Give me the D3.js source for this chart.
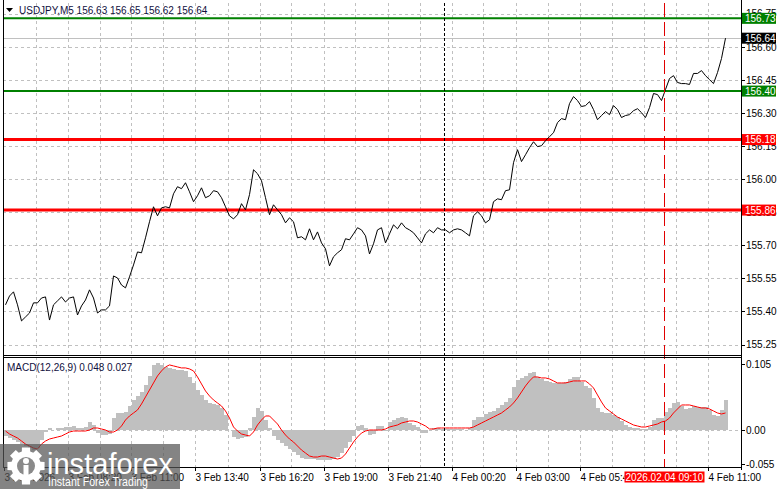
<!DOCTYPE html>
<html>
<head>
<meta charset="utf-8">
<script src="https://cdn.jsdelivr.net/npm/d3@7"></script>
<style>
  html, body { margin: 0; padding: 0; background: #ffffff; }
  svg { display: block; }
  text { font-family: "Liberation Sans", Arial, sans-serif; }
</style>
</head>
<body>
<svg id="chart" width="781" height="489"></svg>
<script>
// ---------------- DATA ----------------
const symbolTitle = "USDJPY,M5";
const ohlcHeader = [156.63, 156.65, 156.62, 156.64];
const seriesStart = "2026-02-03T05:45:00Z";   // first sample time
const sampleStepMinutes = 10;                    // one sample every 2 M5 bars

// close prices (one per 10 minutes)
const closes = [
  155.430,155.470,155.489,155.430,155.357,155.375,155.393,155.439,155.439,155.461,
  155.466,155.361,155.430,155.448,155.466,155.443,155.461,155.466,155.384,155.425,
  155.452,155.498,155.461,155.393,155.407,155.407,155.425,155.561,155.552,155.520,
  155.507,155.557,155.611,155.670,155.666,155.734,155.807,155.875,155.834,155.870,
  155.875,155.870,155.934,155.966,155.957,155.984,155.943,155.898,155.925,155.961,
  155.916,155.925,155.948,155.943,155.916,155.875,155.834,155.820,155.839,155.889,
  155.861,155.930,156.043,156.025,155.993,155.916,155.839,155.884,155.861,155.839,
  155.802,155.825,155.807,155.734,155.739,155.725,155.775,155.725,155.761,155.711,
  155.684,155.607,155.648,155.666,155.680,155.730,155.725,155.752,155.780,155.770,
  155.743,155.661,155.707,155.770,155.780,155.711,155.752,155.793,155.775,155.802,
  155.780,155.770,155.757,155.734,155.711,155.752,155.770,155.757,155.780,155.770,
  155.770,155.757,155.770,155.775,155.770,155.757,155.743,155.834,155.852,155.834,
  155.802,155.816,155.898,155.911,155.907,155.948,155.952,156.075,156.134,156.080,
  156.111,156.143,156.170,156.148,156.152,156.175,156.193,156.211,156.257,156.275,
  156.270,156.343,156.375,156.357,156.330,156.334,156.352,156.316,156.270,156.289,
  156.307,156.293,156.334,156.316,156.280,156.289,156.293,156.311,156.320,156.302,
  156.280,156.325,156.389,156.384,156.357,156.407,156.457,156.470,156.439,156.434,
  156.434,156.430,156.480,156.480,156.493,156.470,156.452,156.434,156.484,156.548,
  156.640
];

// MACD(12,26,9) main histogram
const macdHist = [
  -0.0096,-0.0128,-0.016,-0.0192,-0.0224,-0.0256,-0.0288,-0.032,-0.0288,-0.016,
  -0.0032,0.0032,0,0.0032,0.0032,0.0048,0.0048,0.0064,0.0032,0.0032,
  0.0048,0.0128,0.008,-0.0048,-0.008,-0.008,-0.0064,0.0192,0.0272,0.0272,
  0.0288,0.0384,0.048,0.0544,0.0608,0.072,0.0864,0.104,0.1072,0.104,
  0.1008,0.0992,0.0976,0.096,0.096,0.0944,0.0848,0.0752,0.064,0.056,
  0.048,0.0432,0.0416,0.04,0.0352,0.024,0,-0.0112,-0.0144,-0.0128,
  -0.0112,0.0032,0.0208,0.0352,0.0304,0.016,0.0032,-0.0096,-0.016,-0.0208,
  -0.0256,-0.0304,-0.0352,-0.04,-0.0448,-0.0464,-0.0464,-0.0464,-0.048,-0.048,
  -0.048,-0.048,-0.0464,-0.0432,-0.0368,-0.0288,-0.0192,-0.0096,0.0064,0.008,
  0.0032,-0.008,-0.0064,0.0064,0.0064,-0.0016,0.0128,0.016,0.0192,0.0208,
  0.0192,0.0112,0.008,0.0048,-0.0048,-0.0048,0,0.0032,0.0032,0.0016,
  0.0016,0.0016,0.0016,0.0016,0.0016,0,0.0032,0.016,0.0208,0.0208,
  0.0256,0.0288,0.0304,0.0352,0.04,0.0448,0.0512,0.0688,0.08,0.0832,
  0.0864,0.0912,0.0928,0.0848,0.0816,0.0784,0.0768,0.0752,0.0752,0.0752,
  0.0768,0.0816,0.0848,0.0848,0.0768,0.0704,0.0672,0.0512,0.0352,0.0288,
  0.0272,0.0272,0.024,0.0208,0.0144,0.008,0.0048,0.0032,0.0032,0.0016,
  0.0016,0.0048,0.016,0.0192,0.0192,0.0288,0.0352,0.0432,0.0448,0.0384,
  0.0336,0.0352,0.0384,0.0368,0.0368,0.0368,0.032,0.024,0.0224,0.032,
  0.048
];

// MACD signal line
const macdSignal = [
  -0.0016,-0.0064,-0.0096,-0.0128,-0.0176,-0.0224,-0.0256,-0.0288,-0.0304,-0.0224,
  -0.0176,-0.0144,-0.0128,-0.0112,-0.0096,-0.0064,-0.0032,-0.0016,-0.0016,-0.0016,
  -0.0016,0,0.0032,0.0032,0.0016,0,-0.0032,-0.0032,0,0.0064,
  0.016,0.0224,0.0272,0.032,0.0416,0.0528,0.064,0.0752,0.0864,0.0944,
  0.1008,0.104,0.1024,0.1008,0.0992,0.0992,0.0976,0.0944,0.0848,0.0736,
  0.0624,0.0544,0.048,0.0432,0.0384,0.0304,0.0192,0.0048,-0.0016,-0.0064,
  -0.008,-0.0096,-0.0032,0.008,0.016,0.0224,0.0224,0.016,0.0096,0,
  -0.008,-0.0144,-0.0192,-0.0256,-0.032,-0.0368,-0.0416,-0.0432,-0.0432,-0.0416,
  -0.0416,-0.0432,-0.0448,-0.0464,-0.0448,-0.0384,-0.0288,-0.0192,-0.0112,-0.0048,
  -0.0016,0,0,0,0,0.0016,0.0048,0.0064,0.008,0.0112,
  0.0128,0.0144,0.0144,0.0128,0.0096,0.0064,0.0016,0.0016,0.0032,0.0032,
  0.0032,0.0032,0.0032,0.0032,0.0032,0.0032,0.0032,0.0048,0.008,0.0112,
  0.0144,0.0176,0.0208,0.024,0.0272,0.032,0.0368,0.0432,0.0512,0.0608,
  0.0704,0.0784,0.0848,0.0848,0.0832,0.0832,0.0816,0.0784,0.0752,0.0752,
  0.0752,0.0768,0.0784,0.0784,0.0784,0.0784,0.0736,0.0672,0.056,0.0448,
  0.0352,0.0304,0.0256,0.0208,0.0176,0.0144,0.0112,0.008,0.0064,0.0048,
  0.0048,0.0064,0.008,0.0096,0.0128,0.0144,0.0192,0.0272,0.0336,0.04,
  0.04,0.04,0.0384,0.0368,0.0352,0.0352,0.0336,0.0304,0.0272,0.0256,
  0.0272
];
const macdLabel = "MACD(12,26,9) 0.048 0.027";

// price axis ticks and levels
const priceTicks = [156.75, 156.60, 156.45, 156.30, 156.15, 156.00, 155.85, 155.70, 155.55, 155.40, 155.25];
const macdTicks = [0.105, 0.00, -0.055];
const macdTickLabels = ["0.105", "0.00", "-0.055"];
const resistanceLevels = [156.73, 156.40];   // green
const supportLevels = [156.18, 155.86];      // red
const bidPrice = 156.64;

// time axis (the 08:20 label of 4 Feb is hidden under the cursor box in the reference)
const timeTicks = ["2026-02-03T05:40:00Z","2026-02-03T08:20:00Z","2026-02-03T11:00:00Z","2026-02-03T13:40:00Z",
  "2026-02-03T16:20:00Z","2026-02-03T19:00:00Z","2026-02-03T21:40:00Z","2026-02-04T00:20:00Z",
  "2026-02-04T03:00:00Z","2026-02-04T05:40:00Z","2026-02-04T11:00:00Z"];
const timeTickLabels = ["3 Feb 2026","3 Feb 08:20","3 Feb 11:00","3 Feb 13:40","3 Feb 16:20","3 Feb 19:00",
  "3 Feb 21:40","4 Feb 00:20","4 Feb 03:00","4 Feb 05:40","4 Feb 11:00"];
const daySeparator = "2026-02-04T00:00:00Z";
const cursorTime = "2026-02-04T09:10:00Z";
const cursorLabel = "2026.02.04 09:10";

// ---------------- LAYOUT ----------------
const L = 3, R = 741;
const mainTop = 3, mainBottom = 355;
const macdTop = 357, macdBottom = 467;
const FONT = 10;
const gridColor = "#c0c0c0";

const svg = d3.select("#chart");
const t0 = new Date(seriesStart).getTime();
const times = closes.map((_, i) => new Date(t0 + i * sampleStepMinutes * 60000));

const x = d3.scaleUtc()
  .domain([new Date(daySeparator), new Date(cursorTime)])
  .range([443.5, 663.5]);
const y = d3.scaleLinear().domain([155.25, 156.60]).range([344.5, 47]);
const ym = d3.scaleLinear().domain([0, 0.105]).range([430, 364.3]);

const curX = Math.round(x(new Date(cursorTime))) + 0.5;

const defs = svg.append("defs");
defs.append("clipPath").attr("id", "clipMain").append("rect")
  .attr("x", L + 1).attr("y", mainTop).attr("width", R - L - 1).attr("height", mainBottom - mainTop);
defs.append("clipPath").attr("id", "clipMacd").append("rect")
  .attr("x", L + 1).attr("y", macdTop + 1).attr("width", R - L - 1).attr("height", macdBottom - macdTop - 1);
defs.append("clipPath").attr("id", "clipTime").append("rect")
  .attr("x", 0).attr("y", macdBottom).attr("width", curX - 40).attr("height", 489 - macdBottom);

// vertical grid (every 80 minutes)
const gStart = new Date("2026-02-03T07:00:00Z").getTime();
const vGrid = [];
for (let t = gStart; x(new Date(t)) < R - 4; t += 80 * 60000) vGrid.push(new Date(t));

const grid = svg.append("g").attr("stroke", gridColor).attr("stroke-width", 1).attr("stroke-dasharray", "3,3").attr("shape-rendering", "crispEdges");
vGrid.forEach(d => {
  const xx = Math.round(x(d)) + 0.5;
  grid.append("line").attr("x1", xx).attr("x2", xx).attr("y1", mainTop).attr("y2", mainBottom);
  grid.append("line").attr("x1", xx).attr("x2", xx).attr("y1", macdTop).attr("y2", macdBottom);
});
priceTicks.forEach(p => {
  const yy = Math.round(y(p)) + 0.5;
  grid.append("line").attr("x1", L).attr("x2", R).attr("y1", yy).attr("y2", yy);
});
grid.append("line").attr("x1", L).attr("x2", R)
  .attr("y1", Math.round(ym(0)) + 0.5).attr("y2", Math.round(ym(0)) + 0.5);

// bid line
svg.append("line").attr("x1", L).attr("x2", R)
  .attr("y1", Math.round(y(bidPrice)) + 0.5).attr("y2", Math.round(y(bidPrice)) + 0.5)
  .attr("stroke", "#c0c0c0").attr("stroke-width", 1);

// level lines
const mainG = svg.append("g").attr("clip-path", "url(#clipMain)");
resistanceLevels.forEach(v => {
  mainG.append("line").attr("x1", L).attr("x2", R).attr("y1", y(v)).attr("y2", y(v))
    .attr("stroke", "#008000").attr("stroke-width", 2);
});
supportLevels.forEach(v => {
  mainG.append("line").attr("x1", L).attr("x2", R).attr("y1", y(v)).attr("y2", y(v))
    .attr("stroke", "#ff0000").attr("stroke-width", 3);
});

// price line
mainG.append("path")
  .datum(closes)
  .attr("fill", "none").attr("stroke", "#000").attr("stroke-width", 1)
  .attr("d", d3.line().x((d, i) => x(times[i])).y(d => y(d)));

// MACD histogram
const macdG = svg.append("g").attr("clip-path", "url(#clipMacd)");
macdG.selectAll("rect.h").data(macdHist).join("rect")
  .attr("x", (d, i) => x(times[i]) - 2)
  .attr("width", 4)
  .attr("y", d => ym(Math.max(0, d)))
  .attr("height", d => Math.abs(ym(d) - ym(0)))
  .attr("fill", "#c0c0c0")
  .attr("shape-rendering", "crispEdges");
macdG.append("path").datum(macdSignal)
  .attr("fill", "none").attr("stroke", "#ff0000").attr("stroke-width", 1)
  .attr("d", d3.line().x((d, i) => x(times[i])).y(d => ym(d)));

// separators
const sepX = Math.round(x(new Date(daySeparator))) + 0.5;
svg.append("line").attr("x1", sepX).attr("x2", sepX).attr("y1", mainTop).attr("y2", macdBottom)
  .attr("stroke", "#000").attr("stroke-dasharray", "3,2");
svg.append("line").attr("x1", curX).attr("x2", curX).attr("y1", mainTop).attr("y2", macdBottom)
  .attr("stroke", "#e00000").attr("stroke-dasharray", "14,5");

// frames
const frame = svg.append("g").attr("stroke", "#000").attr("stroke-width", 1).attr("shape-rendering", "crispEdges");
frame.append("line").attr("x1", L + 0.5).attr("x2", L + 0.5).attr("y1", 0).attr("y2", macdBottom);
frame.append("line").attr("x1", R + 0.5).attr("x2", R + 0.5).attr("y1", 0).attr("y2", macdBottom + 3);
frame.append("line").attr("x1", L).attr("x2", R).attr("y1", mainBottom + 0.5).attr("y2", mainBottom + 0.5);
frame.append("line").attr("x1", L).attr("x2", R).attr("y1", macdTop + 0.5).attr("y2", macdTop + 0.5);
frame.append("line").attr("x1", L).attr("x2", R + 1).attr("y1", macdBottom + 0.5).attr("y2", macdBottom + 0.5);

// right price axis
const axisG = svg.append("g");
priceTicks.forEach(p => {
  const yy = y(p);
  axisG.append("line").attr("x1", R).attr("x2", R + 4).attr("y1", Math.round(yy) + 0.5).attr("y2", Math.round(yy) + 0.5)
    .attr("stroke", "#000").attr("shape-rendering", "crispEdges");
  axisG.append("text").attr("x", R + 5).attr("y", yy).attr("dy", "0.35em")
    .attr("font-size", FONT).attr("fill", "#000").text(d3.format(".2f")(p));
});
macdTicks.forEach((v, i) => {
  const yy = ym(v);
  axisG.append("line").attr("x1", R).attr("x2", R + 4).attr("y1", Math.round(yy) + 0.5).attr("y2", Math.round(yy) + 0.5)
    .attr("stroke", "#000").attr("shape-rendering", "crispEdges");
  axisG.append("text").attr("x", R + 5).attr("y", yy).attr("dy", "0.35em")
    .attr("font-size", FONT).attr("fill", "#000").text(macdTickLabels[i]);
});

// price tags
function tag(v, fill) {
  const yy = y(v);
  axisG.append("rect").attr("x", R + 1).attr("y", yy - 5.5).attr("width", 34).attr("height", 11).attr("fill", fill);
  axisG.append("text").attr("x", R + 4).attr("y", yy).attr("dy", "0.35em")
    .attr("font-size", FONT).attr("fill", "#fff").text(d3.format(".2f")(v));
}
resistanceLevels.forEach(v => tag(v, "#008000"));
tag(bidPrice, "#000000");
supportLevels.forEach(v => tag(v, "#ff0000"));

// time axis
const timeG = svg.append("g").attr("clip-path", "url(#clipTime)");
timeTicks.forEach((t, i) => {
  const xx = Math.round(x(new Date(t))) + 0.5;
  svg.append("line").attr("x1", xx).attr("x2", xx).attr("y1", macdBottom).attr("y2", macdBottom + 4)
    .attr("stroke", "#000").attr("shape-rendering", "crispEdges");
  const g = xx < curX ? timeG : svg;
  g.append("text").attr("x", xx).attr("y", 477).attr("dy", "0.35em")
    .attr("font-size", FONT).attr("fill", "#000").text(timeTickLabels[i]);
});
// cursor time box
svg.append("rect").attr("x", curX - 40).attr("y", 471.5).attr("width", 80).attr("height", 11).attr("fill", "#ff0000");
svg.append("text").attr("x", curX).attr("y", 477).attr("dy", "0.35em").attr("text-anchor", "middle")
  .attr("font-size", FONT).attr("fill", "#fff").text(cursorLabel);

// header
svg.append("path").attr("d", "M6,8 L13,8 L9.5,12 Z").attr("fill", "#000");
svg.append("text").attr("x", 19).attr("y", 10).attr("dy", "0.35em").attr("font-size", FONT).attr("fill", "#101040")
  .text(symbolTitle + "  " + ohlcHeader.map(d3.format(".2f")).join(" "));
svg.append("text").attr("x", 7).attr("y", 367).attr("dy", "0.35em").attr("font-size", FONT).attr("fill", "#101040")
  .text(macdLabel);

// logo overlay
const logo = svg.append("g");
logo.append("rect").attr("x", 0).attr("y", 444).attr("width", 180).attr("height", 45).attr("fill", "#555").attr("opacity", 0.72);
const gcx = 26, gcy = 466;
const teeth = 8, rOut = 19, rIn = 15;
let gearPts = [];
for (let k = 0; k < teeth; k++) {
  const a0 = (k / teeth) * 2 * Math.PI;
  const w = Math.PI / teeth * 0.55;
  gearPts.push([a0 - w * 1.3, rIn], [a0 - w, rOut], [a0 + w, rOut], [a0 + w * 1.3, rIn]);
}
const gearPath = d3.lineRadial().angle(d => d[0]).radius(d => d[1]).curve(d3.curveLinearClosed)(gearPts);
logo.append("path").attr("d", gearPath).attr("transform", `translate(${gcx},${gcy})`).attr("fill", "#fff");
logo.append("circle").attr("cx", gcx).attr("cy", gcy).attr("r", 9).attr("fill", "#8a8a8a");
logo.append("circle").attr("cx", gcx).attr("cy", gcy - 5).attr("r", 3).attr("fill", "#fff");
logo.append("rect").attr("x", gcx - 2.5).attr("y", gcy - 1).attr("width", 5).attr("height", 12).attr("fill", "#fff");
logo.append("text").attr("x", 47).attr("y", 474).attr("font-family", "'Open Sans', sans-serif")
  .attr("font-size", 29).attr("fill", "#fff").attr("textLength", 126).attr("lengthAdjust", "spacingAndGlyphs")
  .text("instaforex");
logo.append("text").attr("x", 48).attr("y", 486).attr("font-family", "'Open Sans', sans-serif")
  .attr("font-size", 12).attr("fill", "#fff").attr("textLength", 100).attr("lengthAdjust", "spacingAndGlyphs")
  .text("Instant Forex Trading");
</script>
</body>
</html>
